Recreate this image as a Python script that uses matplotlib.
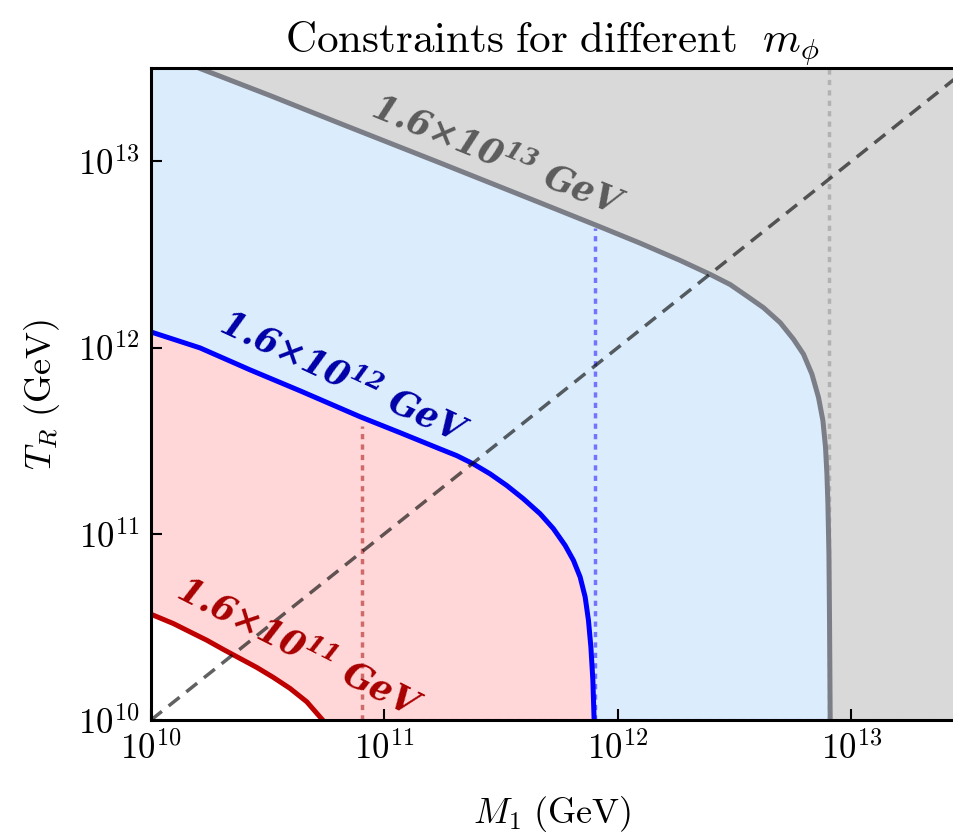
import numpy as np
import matplotlib
matplotlib.use("Agg")
import matplotlib.pyplot as plt
from matplotlib.ticker import NullLocator

plt.rcParams['mathtext.fontset'] = 'cm'
plt.rcParams['mathtext.rm'] = 'DejaVu Serif:bold:italic'
plt.rcParams['mathtext.it'] = 'DejaVu Serif:bold:italic'
plt.rcParams['mathtext.bf'] = 'DejaVu Serif:bold:italic'

# curves (M1 in GeV, T_R in GeV)
gray_M = [1e10, 1.670e10, 3.235e10, 6.453e10, 1.731e11, 4.642e11, 8.145e11, 1.245e12,
          1.847e12, 2.483e12, 3.025e12, 3.566e12, 4.202e12, 4.954e12, 5.648e12,
          6.233e12, 6.773e12, 7.228e12, 7.549e12, 7.745e12, 7.852e12, 7.930e12,
          8.009e12, 8.057e12, 8.111e12]
gray_T = [3.98e13, 3.105e13, 2.254e13, 1.596e13, 9.80e12, 5.986e12, 4.513e12, 3.633e12,
          2.935e12, 2.470e12, 2.178e12, 1.890e12, 1.636e12, 1.360e12, 1.108e12,
          9.207e11, 7.194e11, 5.393e11, 4.045e11, 2.910e11, 2.097e11, 1.448e11,
          7.815e10, 3.433e10, 9.9e9]

blue_M = [1e10, 1.622e10, 2.656e10, 4.349e10, 7.862e10, 1.167e11, 1.731e11, 2.040e11,
          2.403e11, 2.834e11, 3.342e11, 3.937e11, 4.642e11, 5.293e11, 5.940e11,
          6.448e11, 6.887e11, 7.236e11, 7.475e11, 7.655e11, 7.808e11, 7.907e11]
blue_T = [1.212e12, 9.952e11, 7.586e11, 5.855e11, 4.249e11, 3.488e11, 2.853e11, 2.627e11,
          2.371e11, 2.097e11, 1.815e11, 1.540e11, 1.280e11, 1.064e11, 8.656e10,
          7.194e10, 5.855e10, 4.575e10, 3.433e10, 2.470e10, 1.638e10, 9.9e9]

red_M = [1e10, 1.246e10, 1.470e10, 1.732e10, 2.041e10, 2.406e10, 2.837e10, 3.342e10,
         3.939e10, 4.646e10, 5.472e10]
red_T = [3.697e10, 3.296e10, 2.972e10, 2.683e10, 2.392e10, 2.141e10, 1.916e10, 1.693e10,
         1.478e10, 1.253e10, 9.9e9]

# m_phi / 2 lines and where they start
vline_M = [8e10, 8e11, 8e12]
vline_top = [3.8e11, 4.4e12, 4e13]
labels = [r"$1.6{\times}10^{11}\ \mathrm{GeV}$", r"$1.6{\times}10^{12}\ \mathrm{GeV}$",
          r"$1.6{\times}10^{13}\ \mathrm{GeV}$"]

ticks = [1e10, 1e11, 1e12, 1e13]
tick_labels = [r"$10^{10}$", r"$10^{11}$", r"$10^{12}$", r"$10^{13}$"]

diag = [1e10, 1e14]

fig = plt.figure(figsize=(9.54, 8.38), dpi=100)
ax = fig.add_axes([0.1583, 0.1408, 0.8417, 0.7781])
ax.set_facecolor('#d9d9d9')

ax.fill_between(gray_M, 1e10, gray_T, color='#dbedfd', lw=0, zorder=1)
ax.fill_between(blue_M, 1e10, blue_T, color='#ffd7d8', lw=0, zorder=1)
ax.fill_between(red_M, 1e10, red_T, color='white', lw=0, zorder=1)

vcols = ['#d06a6a', '#7373ff', '#b2b2b2']
for xv, top, c in zip(vline_M, vline_top, vcols):
    ax.plot([xv, xv], [1e10, top], ls=(0, (1.5, 1.5)), color=c, lw=2.5, zorder=2)

# dashed segments along the bottom edge
ax.plot([vline_M[0], vline_M[1]], [1e10, 1e10], ls='--', color=vcols[0], lw=1.5, zorder=2)
ax.plot([vline_M[1], vline_M[2]], [1e10, 1e10], ls='--', color=vcols[1], lw=1.5, zorder=2)
ax.plot([vline_M[2], 1e14], [1e10, 1e10], ls='--', color=vcols[2], lw=1.5, zorder=2)

ax.plot(diag, diag, ls=(0, (4, 2.5)), color='k', alpha=0.62, lw=2.5, zorder=4)

ax.plot(gray_M, gray_T, color='#7b7e86', lw=3.6, zorder=3)
ax.plot(blue_M, blue_T, color='#0000ff', lw=3.6, zorder=3)
ax.plot(red_M, red_T, color='#bf0000', lw=3.6, zorder=3)

ax.text(4.3e10, 2.42e10, labels[0], color='#a80000', fontsize=25, rotation=-27,
        ha='center', va='center', rotation_mode='anchor', math_fontfamily='custom', zorder=5)
ax.text(6.7e10, 6.85e11, labels[1], color='#0000a8', fontsize=25, rotation=-25,
        ha='center', va='center', rotation_mode='anchor', math_fontfamily='custom', zorder=5)
ax.text(3.05e11, 1.07e13, labels[2], color='#5c5c5c', fontsize=25, rotation=-22,
        ha='center', va='center', rotation_mode='anchor', math_fontfamily='custom', zorder=5)

ax.set_xscale('log')
ax.set_yscale('log')
ax.set_xlim(1e10, 2.75e13)
ax.set_ylim(1e10, 3.17e13)
ax.set_xticks(ticks)
ax.set_xticklabels(tick_labels)
ax.set_yticks(ticks)
ax.set_yticklabels(tick_labels)
ax.xaxis.set_minor_locator(NullLocator())
ax.yaxis.set_minor_locator(NullLocator())
ax.tick_params(direction='in', length=8, width=1.5, labelsize=25, pad=8)
ax.spines['right'].set_visible(False)
for s in ['left', 'top', 'bottom']:
    ax.spines[s].set_linewidth(2.2)
    ax.spines[s].set_zorder(6)

ax.set_xlabel(r"$M_1\ \mathrm{(GeV)}$", fontsize=26, labelpad=20)
ax.set_ylabel(r"$T_R\ \mathrm{(GeV)}$", fontsize=26, labelpad=12)
ax.set_title(r"$\mathrm{Constraints\ for\ different}\ \ m_\phi$", fontsize=31, pad=8)

fig.savefig("out.png", dpi=100)
